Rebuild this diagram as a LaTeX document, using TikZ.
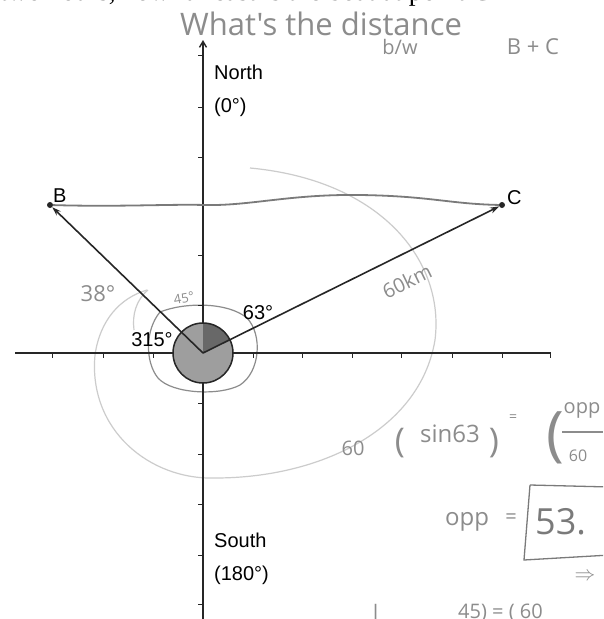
\documentclass[tikz,border=0pt]{standalone}
\usepackage{fontspec}
\setmainfont{Liberation Sans}
\newfontfamily\serifprint{Liberation Serif}
\newfontfamily\hand{Open Sans}
\usetikzlibrary{arrows.meta}
\definecolor{ink}{HTML}{262626}
\definecolor{pencil}{HTML}{8C8C8C}
\definecolor{faint}{HTML}{CCCCCC}
\definecolor{wave}{HTML}{7A7A7A}
\definecolor{discA}{HTML}{9E9E9E}
\definecolor{discB}{HTML}{686868}
\tikzset{
  axisline/.style={draw=ink, line width=1.4pt},
  tickmark/.style={draw=ink, line width=1pt},
  vecline/.style={draw=ink, line width=1.6pt, -{Stealth[length=9pt,width=6pt]}},
  ptdot/.style={circle, fill=ink, inner sep=0pt, minimum size=6pt},
  lbl/.style={font=\fontsize{20}{22}\selectfont, text=black, inner sep=1pt},
  handtxt/.style={font=\hand\fontsize{20}{22}\selectfont, text=pencil, inner sep=0pt},
  faintline/.style={draw=faint, line width=1.2pt},
  pencilline/.style={draw=pencil, line width=1.2pt}
}
\begin{document}
\begin{tikzpicture}[x=1pt,y=-1pt]
\useasboundingbox (0,0) rectangle (603,619);
\clip (0,0) rectangle (603,619);
\fill[white] (0,0) rectangle (603,619);

% printed question line, cut at top
\node[anchor=base west, inner sep=0pt] (qline) at (0,0)
  {\resizebox{490pt}{!}{\serifprint two hours, how far east is the boat at point C}};

% handwritten header
\node[handtxt, font=\hand\fontsize{31}{33}\selectfont, anchor=west] (h1) at (180,24) {What's the distance};
\node[handtxt] (h2) at (400,47) {b/w};
\node[handtxt, font=\hand\fontsize{22}{24}\selectfont] (h3) at (533,47) {B + C};

% faint big spiral around origin
\draw[faintline] (147,290) .. controls (120,298) and (100,320) .. (95,355)
  .. controls (88,430) and (150,480) .. (215,478)
  .. controls (320,478) and (420,430) .. (435,340)
  .. controls (445,260) and (380,180) .. (250,168);
\draw[faintline] (148,290) .. controls (136,300) and (132,315) .. (134,330);

% pencil ring around origin
\draw[pencilline] (160,312) .. controls (185,302) and (228,302) .. (247,318)
  .. controls (263,335) and (260,372) .. (240,385)
  .. controls (220,396) and (172,394) .. (158,378)
  .. controls (145,362) and (145,330) .. (160,312);

% axes
\coordinate (O) at (203,353);
\coordinate (xl) at (15,353);
\coordinate (xr) at (550,353);
\coordinate (yt) at (203,40);
\coordinate (yb) at (203,625);
\draw[axisline] (xl) -- (xr);
\draw[axisline, -{Straight Barb[length=6pt,width=7pt]}] (yb) -- (yt);
\foreach \xx in {52,103,153,253,302,352,401,452,502,550}
  \draw[tickmark] (\xx,352) -- (\xx,358);
\foreach \yy in {55,107,157,205,255,305,403,454,504,555,604}
  \draw[tickmark] (198,\yy) -- (204,\yy);

% shaded disc
\fill[discA] (O) circle (30);
\fill[discB] (O) -- ++(90:-30) arc[start angle=-90, end angle=-26.3, radius=30] -- cycle;
\draw[ink, line width=1.5pt] (O) circle (30);

% points
\node[ptdot] (B) at (50,205) {};
\node[ptdot] (C) at (502,205) {};
\node[lbl, anchor=south west] (Blbl) at (52,204) {B};
\node[lbl, anchor=south west] (Clbl) at (506,206) {C};

% wavy B--C pencil line
\draw[draw=wave, line width=1.8pt] (B) .. controls (120,207) and (170,204) .. (205,205)
  .. controls (250,206) and (290,194) .. (360,195)
  .. controls (430,196) and (450,204) .. (C);

% vectors
\draw[vecline] (O) -- (B);
\draw[vecline] (O) -- (C);

% printed labels
\node[lbl, anchor=west] (north) at (213,72) {North};
\node[lbl, anchor=west] (zero) at (213,107) {(0°)};
\node[lbl, anchor=west] (south) at (213,540) {South};
\node[lbl, anchor=west] (oneeighty) at (213,575) {(180°)};
\node[lbl] (a63) at (258,313) {63°};
\node[lbl] (a315) at (152,340) {315°};

% pencil notes
\node[handtxt, font=\hand\fontsize{22}{24}\selectfont] (n38) at (98,294) {38°};
\node[handtxt, font=\hand\fontsize{13}{14}\selectfont, rotate=10] (n45) at (184,298) {45°};
\node[handtxt, rotate=26] (n60km) at (407,281) {60km};
\node[handtxt] (s60) at (353,448) {60};
\node[handtxt, font=\hand\fontsize{34}{36}\selectfont] (sp1) at (400,443) {(};
\node[handtxt, font=\hand\fontsize{24}{26}\selectfont] (ssin) at (450,434) {sin63};
\node[handtxt, font=\hand\fontsize{34}{36}\selectfont] (sp2) at (494,443) {)};
\node[handtxt, font=\hand\fontsize{14}{16}\selectfont] (seq) at (513,418) {=};
\node[handtxt, font=\hand\fontsize{60}{62}\selectfont] (bp) at (555,438) {(};
\node[handtxt] (fopp) at (582,410) {opp};
\draw[pencilline] (562,432) -- (603,432);
\node[handtxt, font=\hand\fontsize{16}{18}\selectfont] (f60) at (578,456) {60};
\node[handtxt, font=\hand\fontsize{24}{26}\selectfont] (opp2) at (467,522) {opp};
\node[handtxt] (eq2) at (511,519) {=};
\draw[draw=wave, line width=1.3pt] (530,485) -- (610,487) (530,485) -- (524,560) -- (610,555);
\node[handtxt, text=wave, font=\hand\fontsize{36}{38}\selectfont, anchor=west] (res) at (535,522) {53.};
\node[handtxt, font=\hand\fontsize{22}{24}\selectfont] (imp) at (585,577) {$\Rightarrow$};
\node[handtxt, anchor=west] (lastl) at (373,612) {l};
\node[handtxt, anchor=west] (lastr) at (458,613) {45) = ( 60};
\end{tikzpicture}
\end{document}
